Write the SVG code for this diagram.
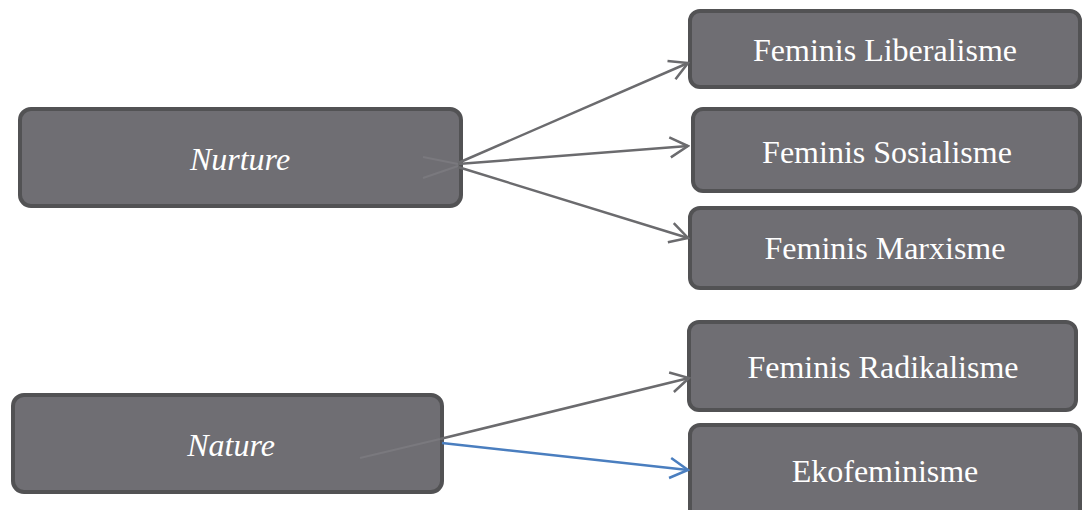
<svg xmlns="http://www.w3.org/2000/svg" width="1082" height="510" viewBox="0 0 1082 510">
<style>
.box{fill:#6f6e73;stroke:#525254;stroke-width:4}
.t{font-family:"Liberation Serif","Times New Roman",serif;font-size:32px;fill:#ffffff;text-anchor:middle}
.i{font-style:italic}
.c{fill:none;stroke:#6b6b6e;stroke-width:2.5}
.b{fill:none;stroke:#4a7ebf;stroke-width:2.5}
.f{fill:none;stroke:#7a797e;stroke-width:2}
</style>
<defs>
<marker id="ag" markerUnits="userSpaceOnUse" viewBox="-20 -12 22 24" refX="0" refY="0" markerWidth="22" markerHeight="24" orient="auto">
<path d="M-18,-10 L0,0 L-18,10" fill="none" stroke="#6b6b6e" stroke-width="2.5"/>
</marker>
<marker id="ab" markerUnits="userSpaceOnUse" viewBox="-20 -12 22 24" refX="0" refY="0" markerWidth="22" markerHeight="24" orient="auto">
<path d="M-18,-10 L0,0 L-18,10" fill="none" stroke="#4a7ebf" stroke-width="2.5"/>
</marker>
</defs>
<g id="nurture"><rect class="box" x="20" y="109" width="441" height="97" rx="11"/><text class="t i" x="240" y="170">Nurture</text></g>
<g id="nature"><rect class="box" x="13" y="395" width="429" height="97" rx="11"/><text class="t i" x="231" y="456">Nature</text></g>
<g id="liberalisme"><rect class="box" x="690" y="11" width="390" height="76" rx="10"/><text class="t" x="885" y="61">Feminis Liberalisme</text></g>
<g id="sosialisme"><rect class="box" x="693" y="109" width="387" height="82" rx="10"/><text class="t" x="887" y="163">Feminis Sosialisme</text></g>
<g id="marxisme"><rect class="box" x="690" y="208" width="390" height="80" rx="10"/><text class="t" x="885" y="259">Feminis Marxisme</text></g>
<g id="radikalisme"><rect class="box" x="689" y="322" width="387" height="88" rx="10"/><text class="t" x="883" y="378">Feminis Radikalisme</text></g>
<g id="ekofeminisme"><rect class="box" x="690" y="425" width="390" height="95" rx="10"/><text class="t" x="885" y="482">Ekofeminisme</text></g>
<g id="connectors">
<path class="f" d="M423,157 L458,164 M423,178 L458,166 M360,458 L440,439"/>
<path class="c" d="M458,163 L688,63" marker-end="url(#ag)"/>
<path class="c" d="M458,164 L688,146" marker-end="url(#ag)"/>
<path class="c" d="M458,167 L688,238" marker-end="url(#ag)"/>
<path class="c" d="M440,439 L689,378" marker-end="url(#ag)"/>
<path class="b" d="M442,443 L688,470" marker-end="url(#ab)"/>
</g>
</svg>
